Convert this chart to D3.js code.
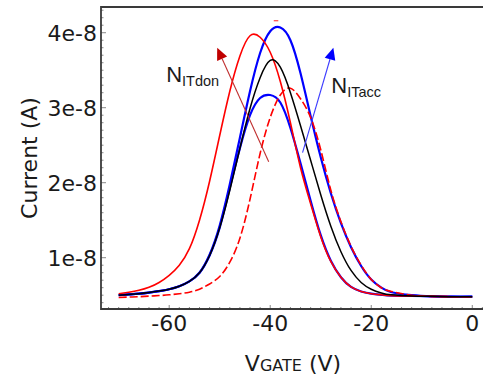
<!DOCTYPE html>
<html>
<head>
<meta charset="utf-8">
<script src="https://cdn.jsdelivr.net/npm/d3@7"></script>
<style>
  html, body { margin: 0; padding: 0; background: #fff; overflow: hidden; }
  svg { display: block; }
</style>
</head>
<body>
<div id="chart"></div>
<script>
// gate voltage sweep (V), shared by every curve
const gateVoltage = [-70, -68, -66, -64, -62, -60, -58, -56, -54, -52, -50, -48, -46, -44, -42, -40, -38, -36,
  -34, -32, -30, -28, -26, -24, -22, -20, -18, -16, -12, -8, -4, 0];

// currents, in units of 1e-9 A
const currentRedSolid = [5.2, 5.4, 5.65, 6.05, 6.7, 7.65, 9.0, 11.2, 15.0, 20.2, 26.3, 32.2, 36.9, 39.6, 39.4, 37.4, 33.5, 28.0,
  22.0, 17.2, 12.8, 9.5, 7.4, 6.1, 5.5, 5.2, 5.05, 4.95, 4.9, 4.85, 4.8, 4.8];
const currentBlueTop = [5.0, 5.1, 5.2, 5.35, 5.55, 5.8, 6.2, 6.85, 8.0, 10.4, 14.3, 19.8, 26.0, 32.2, 37.3, 40.2, 40.7, 39.0,
  34.6, 28.9, 23.4, 18.6, 14.6, 11.4, 8.9, 7.1, 6.0, 5.4, 5.0, 4.85, 4.8, 4.8];
const currentBlack = [5.0, 5.1, 5.2, 5.35, 5.55, 5.8, 6.2, 6.85, 8.0, 10.3, 14.0, 19.0, 24.6, 29.9, 34.0, 36.3, 35.4, 32.0,
  27.6, 23.0, 18.4, 14.2, 10.8, 8.3, 6.7, 5.8, 5.3, 5.05, 4.9, 4.85, 4.8, 4.8];
const currentBlueLow = [5.0, 5.1, 5.2, 5.35, 5.55, 5.8, 6.2, 6.85, 8.0, 10.3, 14.0, 19.3, 24.6, 29.0, 31.3, 31.7, 30.7, 27.3,
  22.6, 17.6, 13.0, 9.6, 7.4, 6.1, 5.5, 5.2, 5.05, 4.95, 4.9, 4.85, 4.8, 4.8];
const currentRedDashed = [4.7, 4.75, 4.8, 4.88, 4.95, 5.05, 5.2, 5.4, 5.8, 6.5, 7.5, 9.4, 12.6, 17.8, 23.9, 28.7, 31.7, 32.6,
  31.2, 28.7, 24.4, 19.0, 14.8, 11.5, 9.0, 7.1, 6.0, 5.5, 5.0, 4.85, 4.8, 4.8];

// axis ticks
const xTickValues = [-60, -40, -20, 0];
const xTickLabels = ["-60", "-40", "-20", "0"];
const yTickValues = [10, 20, 30, 40];
const yTickLabels = ["1e-8", "2e-8", "3e-8", "4e-8"];

// arrow annotations [V, I(1e-9 A)] from tail to tip
const arrowDon = [[-40.3, 22.8], [-50.5, 38.0]];
const arrowAcc = [[-33.6, 24.0], [-27.5, 38.0]];

const width = 483;
const height = 376;
const margin = { left: 101, top: 7, bottom: 67 };

const x = d3.scaleLinear().domain([-73.5, 4.5]).range([margin.left, 495]);
const y = d3.scaleLinear().domain([3.16, 43.43]).range([height - margin.bottom, margin.top]);

const svg = d3.select("#chart").append("svg")
  .attr("width", width)
  .attr("height", height);

// minor + major ticks, pointing into the plot
const axisColor = "#3a3a3a";
const xMinor = d3.range(-72, 4, 2);
const yMinor = d3.range(4, 44, 1);

svg.append("g").selectAll("line").data(xMinor).join("line")
  .attr("x1", d => x(d)).attr("x2", d => x(d))
  .attr("y1", y.range()[0]).attr("y2", d => y.range()[0] - (d % 20 === 0 ? 4 : 2))
  .attr("stroke", "#888").attr("stroke-width", 1);

svg.append("g").selectAll("line").data(yMinor).join("line")
  .attr("y1", d => y(d)).attr("y2", d => y(d))
  .attr("x1", margin.left).attr("x2", d => margin.left + (d % 10 === 0 ? 5 : 2.5))
  .attr("stroke", "#888").attr("stroke-width", 1);

// frame: left, bottom and top (right side falls outside the crop)
svg.append("path")
  .attr("d", `M${x.range()[1]},${y.range()[1]}H${margin.left}V${y.range()[0]}H${x.range()[1]}`)
  .attr("fill", "none")
  .attr("stroke", axisColor)
  .attr("stroke-width", 1.8);

// tick labels
svg.append("g").selectAll("text").data(xTickValues).join("text")
  .attr("x", d => x(d))
  .attr("y", 331)
  .attr("text-anchor", "middle")
  .attr("font-family", "DejaVu Sans")
  .attr("font-size", 22)
  .attr("fill", "#1a1a1a")
  .text((d, i) => xTickLabels[i]);

svg.append("g").selectAll("text").data(yTickValues).join("text")
  .attr("x", 97)
  .attr("y", d => y(d))
  .attr("dy", "0.36em")
  .attr("text-anchor", "end")
  .attr("font-family", "DejaVu Sans")
  .attr("font-size", 22)
  .attr("fill", "#1a1a1a")
  .text((d, i) => yTickLabels[i]);

// axis titles
svg.append("text")
  .attr("transform", `translate(37,${(y.range()[0] + y.range()[1]) / 2}) rotate(-90)`)
  .attr("text-anchor", "middle")
  .attr("font-family", "DejaVu Sans")
  .attr("font-size", 22)
  .attr("fill", "#1a1a1a")
  .text("Current (A)");

const xTitle = svg.append("text")
  .attr("x", 293)
  .attr("y", 371)
  .attr("text-anchor", "middle")
  .attr("font-family", "DejaVu Sans")
  .attr("font-size", 22)
  .attr("fill", "#1a1a1a");
xTitle.append("tspan").text("V");
xTitle.append("tspan").attr("font-size", 16).text("GATE");
xTitle.append("tspan").text(" (V)");

// curves
const series = [
  { values: currentBlueLow, color: "#0000ff", w: 2.2, dash: null },
  { values: currentBlueTop, color: "#0000ff", w: 2.2, dash: null },
  { values: currentRedDashed, color: "#ff0000", w: 1.6, dash: "8,3" },
  { values: currentRedSolid, color: "#ff0000", w: 1.6, dash: null },
  { values: currentBlack, color: "#000000", w: 1.5, dash: null }
];

const line = d3.line()
  .x(d => x(d[0]))
  .y(d => y(d[1]))
  .curve(d3.curveNatural);

svg.append("g").selectAll("path").data(series).join("path")
  .attr("d", s => line(gateVoltage.map((v, i) => [v, s.values[i]])))
  .attr("fill", "none")
  .attr("stroke", s => s.color)
  .attr("stroke-width", s => s.w)
  .attr("stroke-dasharray", s => s.dash);

// small red stray mark above the blue peak
svg.append("line")
  .attr("x1", x(-39.3)).attr("x2", x(-38.4))
  .attr("y1", y(41.6)).attr("y2", y(41.6))
  .attr("stroke", "#ff4040").attr("stroke-width", 1.2);

// arrows
function drawArrow(pts, lineColor, headColor) {
  const [x0, y0] = [x(pts[0][0]), y(pts[0][1])];
  const [x1, y1] = [x(pts[1][0]), y(pts[1][1])];
  const ang = Math.atan2(y1 - y0, x1 - x0);
  const len = 12, half = 5.5;
  const bx = x1 - len * Math.cos(ang), by = y1 - len * Math.sin(ang);
  svg.append("line")
    .attr("x1", x0).attr("y1", y0).attr("x2", bx).attr("y2", by)
    .attr("stroke", lineColor).attr("stroke-width", 1.1);
  svg.append("path")
    .attr("d", `M${x1},${y1}L${bx + half * Math.sin(ang)},${by - half * Math.cos(ang)}` +
      `L${bx - half * Math.sin(ang)},${by + half * Math.cos(ang)}Z`)
    .attr("fill", headColor);
}
drawArrow(arrowDon, "#c03030", "#c00000");
drawArrow(arrowAcc, "#3a3aff", "#0000ff");

// N_IT labels
function nLabel(px, py, sub) {
  const t = svg.append("text")
    .attr("x", px).attr("y", py)
    .attr("font-family", "Liberation Sans")
    .attr("font-size", 22)
    .attr("fill", "#1a1a1a");
  t.append("tspan").text("N");
  t.append("tspan").attr("font-size", 14.5).attr("dy", 4).text(sub);
}
nLabel(x(-60.6), y(33.4), "ITdon");
nLabel(x(-27.9), y(32.0), "ITacc");
</script>
</body>
</html>
